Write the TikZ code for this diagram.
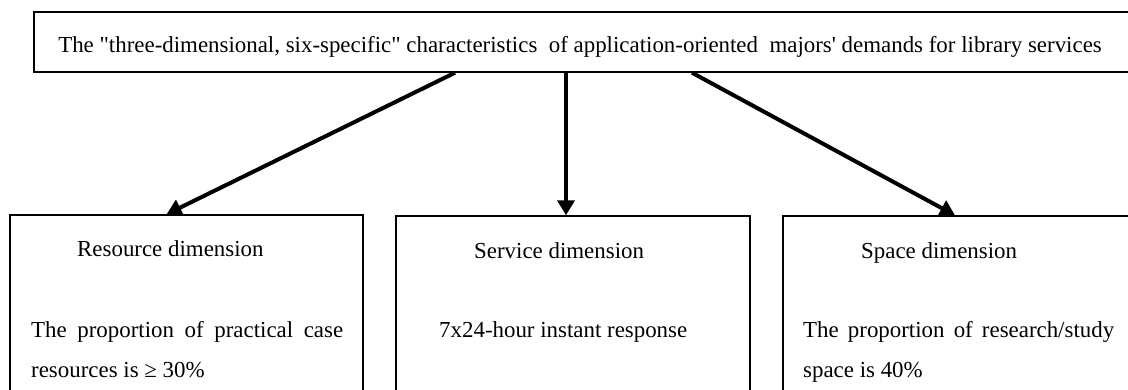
\documentclass[tikz,border=0pt]{standalone}
\usepackage{fontspec}
\newfontfamily\timesfont{Liberation Serif}
\usetikzlibrary{arrows.meta}

\begin{document}
\begin{tikzpicture}[x=1pt,y=-1pt,
  box/.style={draw,line width=1.4pt,inner sep=0pt},
  arr/.style={line width=4pt,-{Triangle[length=15pt,width=17pt]}},
  txt/.style={font=\timesfont\fontsize{22.9}{40}\selectfont,inner sep=0pt}]
  \useasboundingbox (0,0) rectangle (1128,389);
  \clip (0,0) rectangle (1128,389);
  % boxes
  \node[box,minimum width=1100pt,minimum height=60pt] (top) at (584,42) {};
  \node[box,minimum width=353pt,minimum height=200pt] (resource) at (186.5,315) {};
  \node[box,minimum width=354pt,minimum height=200pt] (service) at (573,316) {};
  \node[box,minimum width=353pt,minimum height=200pt] (space) at (959.5,316) {};
  % texts
  \node[txt,anchor=base] (title) at (580,52) {The "three-dimensional, six-specific" characteristics\ \ of application-oriented\ \ majors' demands for library services};
  \node[txt,anchor=base west] (reshead) at (77,256) {Resource dimension};
  \node[txt,anchor=base west] (serhead) at (474,258) {Service dimension};
  \node[txt,anchor=base west] (spahead) at (861,258) {Space dimension};
  \node[txt,anchor=base west,text width=312pt,align=justify] (resbody) at (31,337) {The proportion of practical case\linebreak resources is ≥ 30\%};
  \node[txt,anchor=base west] (serbody) at (439,337) {7x24-hour instant response};
  \node[txt,anchor=base west,text width=311pt,align=justify] (spabody) at (803,337) {The proportion of research/study\linebreak space is 40\%};
  % arrows
  \draw[arr] ([xshift=-129pt]top.south) -- ([xshift=-20pt]resource.north);
  \draw[arr] ([xshift=-18pt]top.south) -- ([xshift=-7pt]service.north);
  \draw[arr] ([xshift=108pt]top.south) -- ([xshift=-4.5pt]space.north);
\end{tikzpicture}
\end{document}
